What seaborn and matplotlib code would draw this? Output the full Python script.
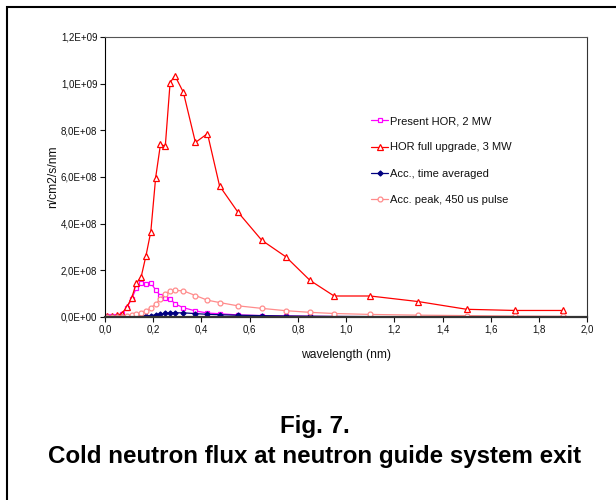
import numpy as np
import pandas as pd
import matplotlib
matplotlib.use("Agg")
import matplotlib.pyplot as plt
import matplotlib.patches as patches
from matplotlib.ticker import FuncFormatter, MultipleLocator
import seaborn as sns

sns.set_theme(style="ticks")
plt.rcParams['font.family'] = ['Liberation Sans', 'DejaVu Sans']

# wavelength (nm)
wavelength = [0.01, 0.03, 0.05, 0.07, 0.09, 0.11, 0.13, 0.15, 0.17, 0.19,
              0.21, 0.23, 0.25, 0.27, 0.29, 0.325, 0.375, 0.425, 0.475, 0.55,
              0.65, 0.75, 0.85, 0.95, 1.1, 1.3, 1.5, 1.7, 1.9]

present_hor = [5e6, 5e6, 6e6, 1.2e7, 4.0e7, 7.6e7, 1.25e8, 1.47e8, 1.43e8, 1.46e8,
               1.16e8, 9.1e7, 8.3e7, 7.9e7, 5.6e7, 4.0e7, 2.6e7, 1.7e7, 1.4e7, 9e6,
               6e6, 4e6, 3e6, 2e6, 1.5e6, 1e6, 8e5, 6e5, 5e5]

hor_upgrade = [3e6, 4e6, 7e6, 1.5e7, 4.2e7, 8.0e7, 1.45e8, 1.72e8, 2.63e8, 3.66e8,
               5.97e8, 7.40e8, 7.32e8, 1.005e9, 1.034e9, 9.63e8, 7.48e8, 7.86e8, 5.62e8, 4.51e8,
               3.29e8, 2.58e8, 1.57e8, 9.0e7, 9.0e7, 6.6e7, 3.3e7, 2.8e7, 2.8e7]

acc_avg = [0, 5e4, 1.6e5, 3e5, 6e5, 1.1e6, 1.7e6, 2.5e6, 4.1e6, 6.2e6,
           8.7e6, 1.24e7, 1.59e7, 1.76e7, 1.81e7, 1.78e7, 1.46e7, 1.14e7, 9.8e6, 7.6e6,
           5.9e6, 4.3e6, 3.2e6, 2.4e6, 1.7e6, 1.3e6, 1.0e6, 6e5, 5e5]

acc_peak = [0, 3e5, 1e6, 2e6, 4e6, 7e6, 1.1e7, 1.6e7, 2.6e7, 3.9e7,
            5.5e7, 7.8e7, 1.0e8, 1.11e8, 1.14e8, 1.12e8, 9.2e7, 7.2e7, 6.2e7, 4.8e7,
            3.7e7, 2.7e7, 2.0e7, 1.5e7, 1.1e7, 8e6, 6e6, 4e6, 3e6]

labels = ["Present HOR, 2 MW", "HOR full upgrade, 3 MW",
          "Acc., time averaged", "Acc. peak, 450 us pulse"]

fig = plt.figure(figsize=(6.16, 5.0), dpi=100)
ax = fig.add_axes([105 / 616, 1 - 317 / 500, 482.3 / 616, 280 / 500])

styles = [
    (present_hor, "#FF00FF", "s", "white", 3.3),
    (hor_upgrade, "#FF0000", "^", "white", 4.2),
    (acc_avg, "#000080", "D", "#000080", 2.6),
    (acc_peak, "#FF8C8C", "o", "white", 3.5),
]
for (vals, col, mk, face, ms), lab in zip(styles, labels):
    sns.lineplot(x=wavelength, y=vals, ax=ax, color=col, linewidth=0.9,
                 marker=mk, markersize=ms, markerfacecolor=face,
                 markeredgecolor=col, markeredgewidth=0.9, label=lab)

ax.set_xlim(0, 2.0)
ax.set_ylim(0, 1.2e9)
ax.xaxis.set_major_locator(MultipleLocator(0.2))
ax.yaxis.set_major_locator(MultipleLocator(2e8))
ax.xaxis.set_major_formatter(FuncFormatter(lambda v, p: f"{v:.1f}".replace(".", ",")))
ax.yaxis.set_major_formatter(FuncFormatter(lambda v, p: f"{v:.1E}".replace(".", ",")))
ax.tick_params(axis="both", direction="out", length=3.5, width=0.8,
               labelsize=7, colors="#111111", pad=2)

for side in ["left", "top", "right", "bottom"]:
    ax.spines[side].set_visible(True)
    ax.spines[side].set_linewidth(0.8)
ax.spines["left"].set_color("black")
ax.spines["top"].set_color("#555555")
ax.spines["right"].set_color("#333333")
ax.spines["bottom"].set_color("#333333")
ax.spines["bottom"].set_linewidth(1.6)

ax.set_xlabel("wavelength (nm)", fontsize=8.7, color="#111111")
ax.set_ylabel("n/cm2/s/nm", fontsize=8.7, color="#111111")
ax.xaxis.set_label_coords(0.5, -0.136)
ax.xaxis.label.set_va("center")
ax.yaxis.set_label_coords(-0.108, 0.5)
ax.yaxis.label.set_va("center")

leg = ax.legend(loc="upper left", bbox_to_anchor=(371 / 616, 1 - 116 / 500),
                bbox_transform=fig.transFigure, frameon=False, fontsize=8,
                handlelength=1.55, handletextpad=0.2, labelspacing=1.48,
                borderpad=0, borderaxespad=0)
for t in leg.get_texts():
    t.set_color("#111111")

fig.text(315 / 616, 1 - 432.7 / 500, "Fig. 7.", ha="center", va="baseline",
         fontsize=17.4, fontweight="bold", color="black")
fig.text(315 / 616, 1 - 462.7 / 500, "Cold neutron flux at neutron guide system exit",
         ha="center", va="baseline", fontsize=17.4, fontweight="bold", color="black")

frame = patches.Rectangle((7 / 616, -0.2), 1.2, 1.2 - 7 / 500, transform=fig.transFigure,
                          fill=False, edgecolor="black", linewidth=1.5)
fig.patches.append(frame)

fig.savefig("out.png", dpi=100)
